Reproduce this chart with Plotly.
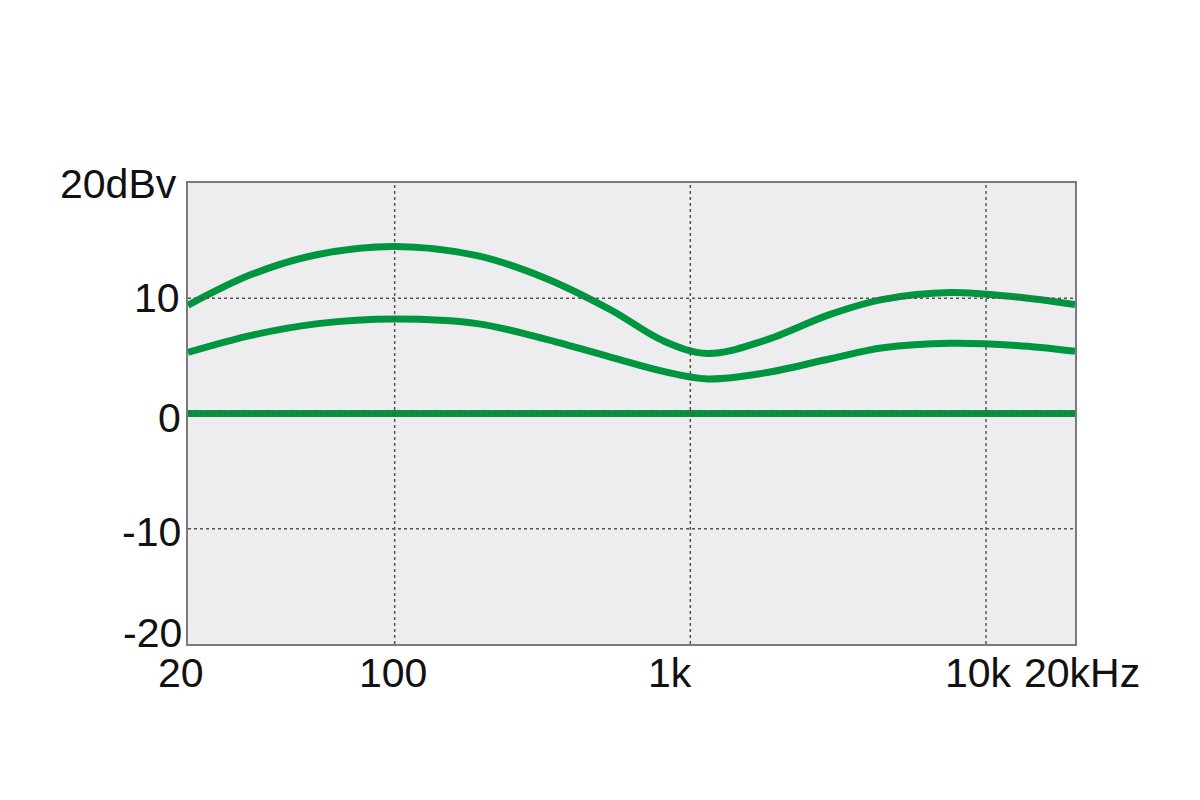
import math
import plotly.graph_objects as go

freq_hz = [20, 33, 55, 100, 190, 319, 537, 811, 1143, 1767, 2973, 4487, 7567, 12700, 20000]
upper_db = [9.4, 12.1, 13.8, 14.5, 13.7, 11.8, 9.0, 6.3, 5.2, 6.3, 8.6, 9.9, 10.5, 10.1, 9.45]
lower_db = [5.3, 6.8, 7.8, 8.2, 7.8, 6.5, 4.9, 3.65, 3.0, 3.5, 4.75, 5.7, 6.1, 5.9, 5.4]
flat_freq = [20, 20000]
flat_db = [0, 0]

x_grid = [100, 1000, 10000]
y_grid = [10, 0, -10]
x_tick_vals = [20, 100, 1000, 10000, 20000]
x_tick_text = ["20", "100", "1k", "10k", "20kHz"]
y_tick_vals = [20, 10, 0, -10, -20]
y_tick_text = ["20dBv", "10", "0", "-10", "-20"]

GREEN = "#00963F"
FONT = "Liberation Sans, Arial, Helvetica, sans-serif"

fig = go.Figure()
for xs, ys in [(freq_hz, upper_db), (freq_hz, lower_db), (flat_freq, flat_db)]:
    fig.add_trace(go.Scatter(x=xs, y=ys, mode="lines",
                             line=dict(color=GREEN, width=7, shape="spline", smoothing=1.0),
                             hoverinfo="skip", showlegend=False))

# dotted grid drawn above the curves
for gx in x_grid:
    fig.add_shape(type="line", xref="x", yref="paper", x0=gx, x1=gx, y0=0, y1=1,
                  line=dict(color="#555555", width=1.5, dash="dot"), layer="above")
for gy in y_grid:
    fig.add_shape(type="line", xref="paper", yref="y", x0=0, x1=1, y0=gy, y1=gy,
                  line=dict(color="#555555", width=1.5, dash="dot"), layer="above")

# tick labels (annotation x on a log axis is given in log10 units)
x_shift = {20: -7, 100: -2, 1000: -20, 10000: -8, 20000: 7}
for v, t in zip(x_tick_vals, x_tick_text):
    fig.add_annotation(x=math.log10(v), y=0, xref="x", yref="paper", text=t,
                       showarrow=False, xanchor="center", yanchor="middle",
                       yshift=-29, xshift=x_shift[v],
                       font=dict(family=FONT, size=41, color="#111111"))
y_yshift = {20: -1, 10: 0, 0: -4, -10: -3, -20: 11}
y_xshift = {20: -9, 10: -6, 0: -5, -10: -5, -20: -4}
for v, t in zip(y_tick_vals, y_tick_text):
    fig.add_annotation(x=0, y=v, xref="paper", yref="y", text=t, showarrow=False,
                       xanchor="right", yanchor="middle", xshift=y_xshift[v],
                       yshift=y_yshift[v],
                       font=dict(family=FONT, size=41, color="#111111"))

fig.update_xaxes(type="log", range=[math.log10(20), math.log10(20000)], showgrid=False,
                 zeroline=False, showticklabels=False, ticks="", showline=True,
                 mirror=True, linecolor="#7a7a7a", linewidth=1.5)
fig.update_yaxes(range=[-20, 20], showgrid=False, zeroline=False, showticklabels=False,
                 ticks="", showline=True, mirror=True, linecolor="#7a7a7a", linewidth=1.5)

fig.update_layout(width=1200, height=800, margin=dict(l=180, r=133, t=175, b=164,
                                                      autoexpand=False),
                  plot_bgcolor="#EDEDEF", paper_bgcolor="white", showlegend=False)

fig.write_html("out.html")
